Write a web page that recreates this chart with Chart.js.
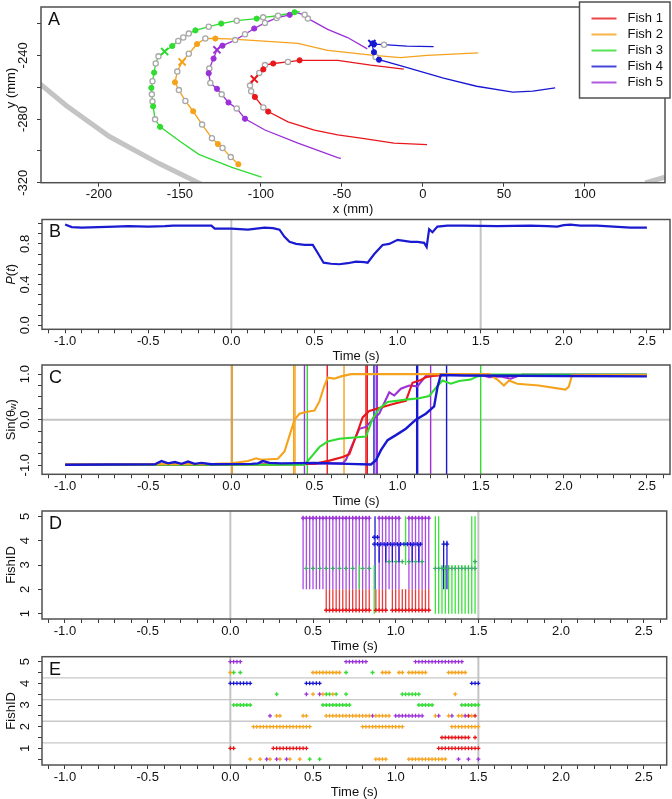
<!DOCTYPE html>
<html>
<head>
<meta charset="utf-8">
<script src="https://cdn.jsdelivr.net/npm/chart.js@4.4.0/dist/chart.umd.min.js"></script>
<style>
  html, body { margin: 0; padding: 0; background: #fff; }
  #wrap { position: relative; width: 672px; height: 799px; overflow: hidden; }
  #wrap canvas { position: absolute; left: 0; top: 0; }
</style>
</head>
<body>
<div id="wrap">
  <canvas id="panelA" width="672" height="799"></canvas>
  <canvas id="panelB" width="672" height="799"></canvas>
  <canvas id="panelC" width="672" height="799"></canvas>
  <canvas id="panelD" width="672" height="799"></canvas>
  <canvas id="panelE" width="672" height="799"></canvas>
</div>
<script>
// ---------- data ----------
const fishNames = ['Fish 1', 'Fish 2', 'Fish 3', 'Fish 4', 'Fish 5'];

// A: trajectories (mm)
const path1 = [[-11.8,-248.6],[-32.2,-246.1],[-52.6,-243.1],[-64.9,-243.1],[-76.1,-243.1],[-83.3,-244.1],[-92.4,-245.1],[-97.5,-246.1],[-98.5,-248.8],[-101,-251],[-104.1,-254.9],[-106.7,-259],[-106,-262.5],[-103.7,-266.1],[-98.5,-272.7],[-95.5,-275.3],[-83.3,-281.8],[-67,-286.9],[-52.6,-290],[-38.3,-292],[-17.9,-295.1],[2.5,-296.1]];
const path2 = [[34.1,-238.4],[2.5,-240],[-13.9,-241.4],[-30.2,-240],[-58.8,-236.9],[-77.1,-232.4],[-107.7,-230.4],[-120,-229.6],[-128.1,-229.4],[-134.3,-229.4],[-139.4,-232.9],[-144.5,-239],[-148.6,-244.1],[-151.6,-250.2],[-153,-256.9],[-150.6,-261.8],[-146.6,-268.6],[-141.8,-275.1],[-136.3,-283.5],[-130.2,-292],[-126.5,-295.7],[-123.7,-298.2],[-118.6,-303.9],[-113.9,-308.4]];
const path3 = [[-76,-212.5],[-79.2,-212.9],[-89.4,-215.1],[-98.6,-216.1],[-102.6,-216.9],[-114.9,-218.2],[-124.5,-220],[-132.2,-222],[-140.4,-224.3],[-144.5,-226.3],[-147.9,-228.8],[-151,-231],[-154.7,-234.1],[-159.4,-237.6],[-163.2,-240.6],[-164.9,-245.1],[-165.9,-250.8],[-166.9,-256.3],[-167.6,-260.4],[-167.3,-264.5],[-166.9,-269],[-166.5,-272],[-165.3,-280.2],[-162.2,-284.9],[-150,-294],[-138.3,-302.2],[-117.9,-310.4],[-99.6,-316.5]];
const path4 = [[6.6,-234.5],[-10,-234.2],[-24,-233.3],[-30.2,-232.9],[-31.5,-232.6],[-30.2,-238],[-29.2,-241],[-27.1,-242.7],[-11.8,-247.1],[12.7,-254.3],[33.1,-259.4],[55.5,-263.1],[67.8,-262.4],[81.6,-260.4]];
const path5 = [[-34.3,-235.9],[-46.5,-228.8],[-58.8,-223.7],[-68,-218.5],[-71,-216.9],[-73,-214.5],[-78,-213.2],[-82.2,-214.5],[-90.3,-216.5],[-97.5,-219.6],[-104.1,-223.1],[-109.8,-226.7],[-115.9,-230.4],[-123.7,-233.9],[-127.1,-236.5],[-129.2,-242],[-131.8,-248.2],[-132.2,-251.2],[-131.2,-257.3],[-127.1,-261],[-124.2,-264.5],[-120,-269.6],[-114.9,-273.3],[-109.8,-279.8],[-97.5,-286.9],[-77.1,-295.1],[-52.6,-304.3],[-50.6,-304.7]];
const wallLeft = [[-242,-253],[-235.7,-258.4],[-220,-271.6],[-193.5,-291],[-162.8,-308],[-138.3,-320.2],[-130,-325]];
const wallRight = [[137.2,-320.2],[149.4,-316.5],[156,-313]];

const filled1 = [[-76.1,-243.1],[-92.4,-245.1],[-98.5,-248.8],[-103.7,-266.1],[-95.5,-275.3]];
const open1 = [[-83.3,-244.1],[-97.5,-246.1],[-101,-251],[-106.7,-259],[-106,-262.5],[-98.5,-272.7]];
const cross1 = [[-104.1,-254.9]];
const filled2 = [[-128.1,-229.4],[-139.4,-232.9],[-153,-256.9],[-141.8,-275.1],[-126.5,-295.7],[-113.9,-308.4]];
const open2 = [[-134.3,-229.4],[-144.5,-239],[-151.6,-250.2],[-150.6,-261.8],[-146.6,-268.6],[-136.3,-283.5],[-130.2,-292],[-123.7,-298.2],[-118.6,-303.9]];
const cross2 = [[-148.6,-244.1]];
const filled3 = [[-79.2,-212.9],[-102.6,-216.9],[-124.5,-220],[-140.4,-224.3],[-154.7,-234.1],[-165.9,-250.8],[-167.6,-260.4],[-166.5,-272],[-162.2,-284.9]];
const open3 = [[-89.4,-215.1],[-98.6,-216.1],[-114.9,-218.2],[-132.2,-222],[-144.5,-226.3],[-147.9,-228.8],[-151,-231],[-163.2,-240.6],[-164.9,-245.1],[-166.9,-256.3],[-167.3,-264.5],[-166.9,-269],[-165.3,-280.2]];
const cross3 = [[-159.4,-237.6]];
const filled4 = [[-30.2,-232.9],[-31,-232.5],[-30.2,-238],[-27.1,-242.7]];
const open4 = [[-24,-233.3],[-29.2,-241]];
const cross4 = [[-31.5,-232.6]];
const filled5 = [[-82.2,-214.5],[-104.1,-223.1],[-123.7,-233.9],[-129.2,-242],[-132.2,-251.2],[-127.1,-261],[-120,-269.6],[-109.8,-279.8]];
const open5 = [[-71,-216.9],[-73,-214.5],[-90.3,-216.5],[-97.5,-219.6],[-109.8,-226.7],[-115.9,-230.4],[-131.8,-248.2],[-131.2,-257.3],[-124.2,-264.5],[-114.9,-273.3]];
const cross5 = [[-127.1,-236.5]];

// B: polarisation P(t)
const polarSeries = [[-1.00,0.99],[-0.96,0.965],[-0.90,0.96],[-0.80,0.965],[-0.70,0.97],[-0.62,0.975],[-0.50,0.97],[-0.40,0.975],[-0.35,0.98],[-0.28,0.98],[-0.20,0.98],[-0.12,0.98],[-0.10,0.95],[-0.05,0.95],[0.00,0.95],[0.10,0.94],[0.15,0.95],[0.20,0.96],[0.25,0.955],[0.29,0.94],[0.32,0.87],[0.35,0.82],[0.39,0.80],[0.44,0.79],[0.49,0.79],[0.52,0.71],[0.555,0.615],[0.60,0.605],[0.65,0.60],[0.70,0.61],[0.75,0.625],[0.80,0.62],[0.82,0.615],[0.86,0.70],[0.91,0.79],[0.95,0.80],[1.00,0.84],[1.04,0.83],[1.08,0.82],[1.12,0.82],[1.16,0.81],[1.175,0.77],[1.19,0.945],[1.21,0.915],[1.24,0.97],[1.30,0.98],[1.40,0.98],[1.60,0.975],[1.80,0.98],[1.90,0.975],[1.96,0.97],[2.00,0.985],[2.04,0.99],[2.10,0.98],[2.20,0.98],[2.30,0.97],[2.40,0.96],[2.46,0.96],[2.50,0.96]];

// C: sin(theta_w) per fish
const sin1 = [[-1.0,-0.99],[0.0,-0.99],[0.40,-0.98],[0.50,-0.97],[0.59,-0.90],[0.67,-0.82],[0.71,-0.76],[0.76,-0.26],[0.79,0.05],[0.83,0.19],[0.91,0.28],[0.99,0.36],[1.05,0.41],[1.09,0.81],[1.14,0.87],[1.17,0.93],[1.21,0.96],[1.30,0.98],[2.0,0.98],[2.5,0.98]];
const sin2 = [[-1.0,-0.98],[-0.1,-0.97],[0.0,-0.96],[0.10,-0.91],[0.15,-0.85],[0.18,-0.88],[0.28,-0.86],[0.32,-0.70],[0.35,-0.35],[0.38,0.0],[0.41,0.13],[0.45,0.17],[0.50,0.20],[0.53,0.40],[0.56,0.75],[0.58,0.92],[0.62,0.90],[0.66,0.95],[0.72,1.0],[1.55,1.0],[1.60,0.88],[1.64,0.75],[1.67,0.86],[1.72,0.79],[1.85,0.75],[2.01,0.66],[2.03,0.72],[2.05,0.98],[2.5,0.98]];
const sin3 = [[-1.0,-0.99],[0.44,-0.99],[0.49,-0.78],[0.53,-0.60],[0.58,-0.48],[0.65,-0.42],[0.81,-0.37],[0.85,0.02],[0.89,0.24],[0.94,0.39],[1.05,0.44],[1.13,0.47],[1.19,0.52],[1.24,0.74],[1.27,0.86],[1.32,0.79],[1.37,0.85],[1.44,0.88],[1.48,0.95],[1.54,0.99],[2.5,0.99]];
const sin4 = [[-1.0,-0.99],[-0.46,-0.98],[-0.42,-0.91],[-0.38,-0.96],[-0.34,-0.93],[-0.30,-0.97],[-0.26,-0.92],[-0.22,-0.97],[-0.18,-0.95],[-0.12,-0.98],[0.12,-0.97],[0.16,-0.96],[0.19,-0.91],[0.23,-0.95],[0.30,-0.96],[0.50,-0.95],[0.70,-0.97],[0.84,-0.985],[0.87,-0.89],[0.90,-0.67],[0.94,-0.45],[0.99,-0.34],[1.05,-0.20],[1.11,0.0],[1.17,0.13],[1.22,0.29],[1.24,0.71],[1.26,0.98],[1.40,0.97],[2.0,0.96],[2.5,0.95]];
const sin5 = [[-1.0,-0.99],[0.40,-0.98],[0.59,-0.96],[0.67,-0.96],[0.69,-0.88],[0.74,-0.45],[0.77,-0.20],[0.81,-0.16],[0.85,0.0],[0.89,0.13],[0.95,0.60],[0.98,0.53],[1.02,0.68],[1.07,0.75],[1.12,0.73],[1.17,0.96],[1.21,1.0],[1.50,0.99],[1.55,0.93],[1.62,0.95],[1.68,0.90],[1.75,0.99],[2.5,0.99]];
const eventTimes = [0.0, 0.006, 0.375, 0.383, 0.44, 0.457, 0.577, 0.678, 0.81, 0.818, 0.858, 0.872, 0.878, 1.115, 1.121, 1.199, 1.295, 1.50];
const eventFish  = [2, 2, 2, 2, 5, 3, 1, 2, 1, 1, 4, 5, 5, 4, 4, 5, 4, 3];

// D: interaction arrows [time, fromID, toID]
const arrows5 = [[0.44,2,5],[0.46,2,5],[0.48,2,5],[0.50,2,5],[0.52,2,5],[0.54,2,5],[0.56,2,5],[0.58,2,5],[0.60,2,5],[0.62,2,5],[0.64,2,5],[0.66,2,5],[0.68,2,5],[0.70,2,5],[0.72,2,5],[0.74,2,5],[0.76,2,5],[0.78,2,5],[0.80,2,5],[0.82,2,5],[0.84,2,5],[0.90,2,5],[0.92,2,5],[0.94,2,5],[0.96,2,5],[0.98,2,5],[1.00,2,5],[1.02,2,5],[1.08,2,5],[1.10,2,5],[1.12,2,5],[1.14,2,5],[1.16,2,5],[1.18,2,5],[1.20,2,5]];
const arrows1 = [[0.58,2,1.12],[0.60,2,1.12],[0.62,2,1.12],[0.64,2,1.12],[0.66,2,1.12],[0.68,2,1.12],[0.70,2,1.12],[0.72,2,1.12],[0.74,2,1.12],[0.76,2,1.12],[0.78,2,1.12],[0.80,2,1.12],[0.82,2,1.12],[0.84,2,1.12],[0.88,2,1.12],[0.90,2,1.12],[0.92,2,1.12],[0.94,2,1.12],[0.98,2,1.12],[1.00,2,1.12],[1.02,2,1.12],[1.04,2,1.12],[1.06,2,1.12],[1.08,2,1.12],[1.10,2,1.12],[1.12,2,1.12],[1.14,2,1.12],[1.16,2,1.12],[1.18,2,1.12],[1.20,2,1.12]];
const arrows3 = [[0.78,2,3],[0.87,1,3],[1.06,3,5],[1.24,1,5],[1.26,1,5],[1.28,1,3],[1.30,1,3],[1.32,1,3],[1.34,1,3],[1.36,1,3],[1.38,1,3],[1.40,1,3],[1.42,1,3],[1.44,1,3],[1.46,1,5],[1.48,1,5]];
const arrows4 = [[0.875,2,5],[0.90,3.1,3.86],[0.94,3.1,3.86],[0.98,3.1,3.86],[1.02,3.1,3.86],[1.10,3.1,3.86],[1.14,3.1,3.86],[1.29,2,4],[1.31,2,4]];
const heads3 = [[0.46,2.86],[0.50,2.86],[0.54,2.86],[0.58,2.86],[0.62,2.86],[0.66,2.86],[0.70,2.86],[0.74,2.86],[0.80,2.86],[0.84,2.86],[0.96,3.14],[1.00,3.14],[1.04,3.14],[1.08,3.14],[1.12,3.14],[1.16,3.14],[1.24,2.86],[1.26,2.86],[1.28,2.86],[1.30,2.86],[1.32,2.86],[1.34,2.86],[1.36,2.86],[1.38,2.86],[1.40,2.86],[1.42,2.86],[1.44,2.86],[1.46,2.86],[1.48,2.86],[1.48,3.14]];
const heads4 = [[0.87,4.14],[0.89,4.14],[0.87,3.86],[0.89,3.86],[0.91,3.86],[0.93,3.86],[0.95,3.86],[0.97,3.86],[0.99,3.86],[1.01,3.86],[1.03,3.86],[1.05,3.86],[1.07,3.86],[1.09,3.86],[1.11,3.86],[1.13,3.86],[1.15,3.86],[1.29,3.86],[1.31,3.86]];

// E: fish positions in rank rows [row, times]
const rows1 = [[1,[0.00,0.02,0.26,0.28,0.30,0.32,0.34,0.36,0.38,0.40,0.42,0.44,0.46,1.26,1.28,1.30,1.32,1.34,1.36,1.38,1.40,1.42,1.44,1.46,1.48,1.50]],[1.5,[1.28,1.30,1.32,1.34,1.36,1.38,1.40,1.42,1.44,1.48]],[2.5,[1.44,1.48]]];
const rows2 = [[0.5,[0.12,0.18,0.24,0.30,0.36,0.42,0.88,0.90,0.92,0.94,1.08,1.10,1.12,1.14,1.16,1.18,1.20,1.22,1.24,1.26,1.28,1.30]],[2,[0.14,0.16,0.18,0.20,0.22,0.24,0.26,0.28,0.30,0.32,0.34,0.36,0.38,0.40,0.42,0.44,0.46,0.48,0.80,0.82,0.84,0.86,0.88,0.90,0.92,0.94,0.96,0.98,1.00,1.02,1.04,1.34,1.36,1.38,1.40,1.42,1.44,1.46,1.48,1.50]],[2.5,[0.28,0.30,0.44,0.46,0.58,0.60,0.62,0.64,0.66,0.68,0.70,0.72,0.74,0.76,0.78,0.80,0.82,0.84,0.88,0.90,0.92,0.94,0.96,1.24,1.32,1.38,1.40,1.46]],[3.5,[0.50,0.56,0.62,1.36]],[4.5,[0.00,0.50,0.52,0.54,0.56,0.58,0.60,0.62,0.64,0.66,0.92,0.94,0.96,1.02,1.04,1.08,1.10,1.12,1.14,1.16,1.18,1.32,1.34,1.36,1.38,1.40,1.42]]];
const rows3 = [[0.5,[0.48,0.54]],[3,[0.02,0.04,0.06,0.08,0.10,0.12,0.56,0.58,0.60,0.62,0.64,0.66,0.68,0.70,0.72,1.14,1.16,1.18,1.20,1.22,1.40,1.42,1.44,1.46,1.48,1.50]],[3.5,[0.28,0.58,0.60,0.64,0.70,1.04,1.06,1.08,1.10,1.12,1.14]],[4.5,[0.02,0.06,0.70,0.86]]];
const rows4 = [[4,[0.00,0.02,0.04,0.06,0.08,0.10,0.12,0.46,0.48,0.50,0.52,0.54,1.46,1.48,1.50]]];
const rows5 = [[0.5,[0.22,0.28,0.34,1.38,1.44,1.50]],[2.5,[0.24,0.86,1.00,1.02,1.04,1.06,1.08,1.10,1.12,1.14,1.16,1.26,1.34,1.42]],[3.5,[0.46,0.54]],[5,[0.00,0.02,0.04,0.06,0.70,0.72,0.74,0.76,0.78,0.80,0.82,1.12,1.14,1.16,1.18,1.20,1.22,1.24,1.26,1.28,1.30,1.32,1.34,1.36,1.38,1.40]]];

// axis tick labels
const xLabelsA = [-200, -150, -100, -50, 0, 50, 100];
const yLabelsA = [-240, -280, -320];
const timeLabels = [-1.0, -0.5, 0.0, 0.5, 1.0, 1.5, 2.0, 2.5];
const yLabelsB = [0.0, 0.4, 0.8];
const yLabelsC = [-1.0, 0.0, 1.0];
const fishIdLabels = [1, 2, 3, 4, 5];
const eGuideRows = [1.25, 2.25, 3.25, 4.25];
const markTimes = [0.0, 1.5];

// ---------- styling ----------
const FONT = '"Liberation Sans", Arial, Helvetica, sans-serif';
const COL = { 1: '#e8171c', 2: '#f5a21c', 3: '#2fdc2f', 4: '#1818d2', 5: '#9b30d8' };
const GREY = '#c4c4c4';
const W = 672, H = 799;

const minorTicks = (a, b, step) => { const t = []; for (let k = Math.round(a / step); k <= Math.round(b / step); k++) t.push(+(k * step).toFixed(4)); return t; };
const timeTicks = minorTicks(-1.1, 2.6, 0.1);

const xy = p => ({ x: p[0], y: p[1] });
function lineDS(pts, color, width, order) {
  return { type: 'line', data: pts.map(xy), borderColor: color, borderWidth: width, pointRadius: 0, fill: false, tension: 0, order: order || 0, clip: 0 };
}
function pointDS(pts, opts, order) {
  return Object.assign({ type: 'line', data: pts.map(xy), showLine: false, order: order || 0, clip: 4 }, opts);
}
function segDS(segs, color, width, order) {
  const d = [];
  segs.forEach(s => { d.push({ x: s[0], y: s[1] }, { x: s[0], y: s[2] }, { x: s[0], y: null }); });
  return { type: 'line', data: d, borderColor: color, borderWidth: width, pointRadius: 0, spanGaps: false, order: order || 0, clip: 0 };
}

function axis(range, ticks, dim) {
  return {
    type: 'linear', min: range[0], max: range[1],
    afterBuildTicks: s => { s.ticks = ticks.map(v => ({ value: v })); },
    afterFit: s => { s[dim] = 4; },
    ticks: { display: false },
    grid: { display: true, drawOnChartArea: false, drawTicks: true, tickLength: 4, tickColor: '#3a3a3a', lineWidth: 1 },
    border: { display: false }
  };
}

function drawRotated(ctx, x, y, pieces) {
  ctx.save();
  ctx.translate(x, y);
  ctx.rotate(-Math.PI / 2);
  ctx.textBaseline = 'middle';
  ctx.textAlign = 'left';
  let total = 0;
  pieces.forEach(p => { ctx.font = p.font; total += ctx.measureText(p.text).width; });
  let cx = -total / 2;
  pieces.forEach(p => { ctx.font = p.font; ctx.fillText(p.text, cx, p.dy || 0); cx += ctx.measureText(p.text).width; });
  ctx.restore();
}

const rStyle = {
  id: 'rStyle',
  afterDraw(chart, args, o) {
    const ctx = chart.ctx, a = chart.chartArea, xs = chart.scales.x, ys = chart.scales.y;
    ctx.save();
    ctx.strokeStyle = '#505050';
    ctx.lineWidth = 1.5;
    ctx.strokeRect(a.left, a.top, a.right - a.left, a.bottom - a.top);
    ctx.fillStyle = '#111';
    ctx.font = '13px ' + FONT;
    ctx.textAlign = 'center';
    ctx.textBaseline = 'middle';
    o.xLabels.forEach(v => ctx.fillText(o.xFmt(v), xs.getPixelForValue(v), a.bottom + 12));
    ctx.fillText(o.xTitle, (a.left + a.right) / 2, a.bottom + 27);
    o.yLabels.forEach(v => drawRotated(ctx, o.yLabelX || 25, ys.getPixelForValue(v), [{ text: o.yFmt(v), font: '13px ' + FONT }]));
    drawRotated(ctx, 11, o.yTitleY || (a.top + a.bottom) / 2, o.yTitle);
    ctx.font = '18px ' + FONT;
    ctx.textAlign = 'left';
    ctx.fillText(o.letter, a.left + 7, a.top + 13);
    if (o.legend) {
      const L = o.legend;
      ctx.fillStyle = '#fff';
      ctx.fillRect(L.x, L.y, L.w, L.h);
      ctx.strokeStyle = '#505050';
      ctx.lineWidth = 1.5;
      ctx.strokeRect(L.x, L.y, L.w, L.h);
      ctx.font = '13px ' + FONT;
      L.items.forEach((it, i) => {
        const yy = L.y + 16.5 + i * 16;
        ctx.strokeStyle = it.color;
        ctx.globalAlpha = 0.8;
        ctx.lineWidth = 2;
        ctx.beginPath(); ctx.moveTo(L.x + 12, yy); ctx.lineTo(L.x + 37, yy); ctx.stroke();
        ctx.globalAlpha = 1;
        ctx.fillStyle = '#111';
        ctx.fillText(it.text, L.x + 48, yy);
      });
    }
    ctx.restore();
  }
};

function panel(id, box, xRange, yRange, xTicks, yTicks, datasets, deco) {
  return new Chart(document.getElementById(id), {
    type: 'line',
    data: { datasets },
    options: {
      responsive: false, animation: false, devicePixelRatio: 1,
      layout: { padding: { left: box.l - 4, right: W - box.r, top: box.t, bottom: H - box.b - 4 } },
      plugins: { legend: { display: false }, tooltip: { enabled: false }, rStyle: deco },
      scales: { x: axis(xRange, xTicks, 'height'), y: axis(yRange, yTicks, 'width') },
      events: []
    },
    plugins: [rStyle]
  });
}

const fmt1 = v => v.toFixed(1);
const fmt0 = v => String(v);
const normal = t => ({ text: t, font: '13px ' + FONT });
const timeRange = [-1.139, 2.639];
const vline = (t, lo, hi) => [[t, lo], [t, hi]];

// ---------- panel A ----------
const paths = [path1, path2, path3, path4, path5];
const filled = [filled1, filled2, filled3, filled4, filled5];
const opens = [open1, open2, open3, open4, open5];
const crosses = [cross1, cross2, cross3, cross4, cross5];
const dsA = [];
dsA.push(lineDS(wallLeft, GREY, 5, 10), lineDS(wallRight, GREY, 5, 10));
paths.forEach((p, i) => dsA.push(lineDS(p, COL[i + 1], 1.3, 5)));
opens.forEach(p => dsA.push(pointDS(p, { pointStyle: 'circle', pointRadius: 2.6, pointBorderWidth: 1.3, pointBorderColor: '#a8a8a8', pointBackgroundColor: '#fff' }, 3)));
filled.forEach((p, i) => dsA.push(pointDS(p, { pointStyle: 'circle', pointRadius: 2.6, pointBorderWidth: 1, pointBorderColor: COL[i + 1], pointBackgroundColor: COL[i + 1] }, 2)));
crosses.forEach((p, i) => dsA.push(pointDS(p, { pointStyle: 'crossRot', pointRadius: 5, pointBorderWidth: 2, pointBorderColor: COL[i + 1] }, 1)));

panel('panelA', { l: 41, r: 670, t: 2, b: 182.7 }, [-235.7, 149.4], [-320, -209.6],
  xLabelsA, minorTicks(-320, -220, 20), dsA, {
    xLabels: xLabelsA, xFmt: fmt0, xTitle: 'x (mm)', yLabels: yLabelsA, yFmt: fmt0, yLabelX: 23,
    yTitle: [normal('y (mm)')], yTitleY: 88, letter: 'A',
    legend: { x: 579.5, y: 2, w: 90.5, h: 96, items: fishNames.map((n, i) => ({ text: n, color: COL[i + 1] })) }
  });

// ---------- panel B ----------
const dsB = [lineDS(polarSeries, '#1a1ad0', 2.2, 1)];
markTimes.forEach(t => dsB.push(lineDS(vline(t, -0.04, 1.04), GREY, 2, 9)));
panel('panelB', { l: 42, r: 670, t: 219.5, b: 329.3 }, timeRange, [-0.04, 1.04],
  timeTicks, minorTicks(0, 1, 0.1), dsB, {
    xLabels: timeLabels, xFmt: fmt1, xTitle: 'Time (s)', yLabels: yLabelsB, yFmt: fmt1,
    yTitle: [{ text: 'P', font: 'italic 13px ' + FONT }, normal('('), { text: 't', font: 'italic 13px ' + FONT }, normal(')')], letter: 'B'
  });

// ---------- panel C ----------
const dsC = [];
[sin4, sin2, sin3, sin1, sin5].forEach((s, k) => {
  const f = [4, 2, 3, 1, 5][k];
  dsC.push(lineDS(s, COL[f], f === 4 ? 2.4 : 2.1, 2));
});
eventTimes.forEach((t, i) => dsC.push(lineDS(vline(t, -1.2, 1.2), i < 2 ? '#dca24a' : COL[eventFish[i]], 1.4, 6)));
dsC.push(lineDS([[-1.139, 0], [2.639, 0]], GREY, 2, 9));
panel('panelC', { l: 42, r: 670, t: 365, b: 474.3 }, timeRange, [-1.2, 1.2],
  timeTicks, minorTicks(-1, 1, 0.25), dsC, {
    xLabels: timeLabels, xFmt: fmt1, xTitle: 'Time (s)', yLabels: yLabelsC, yFmt: fmt1,
    yTitle: [normal('Sin(\u03b8'), { text: 'w', font: '9px ' + FONT, dy: 3 }, normal(')')], letter: 'C'
  });

// ---------- panel D ----------
const dsD = [];
const plus = (color, r) => ({ pointStyle: 'cross', pointRadius: r, pointBorderWidth: 1.3, pointBorderColor: color });
dsD.push(segDS(arrows5, '#a94be3', 1.3, 5));
dsD.push(pointDS(arrows5.map(a => [a[0], 4.93]), plus(COL[5], 2.2), 3));
dsD.push(segDS(arrows1, '#ec3a3a', 1.3, 5));
dsD.push(pointDS(arrows1.map(a => [a[0], 1.14]), plus(COL[1], 2.2), 3));
dsD.push(segDS(arrows3, '#3ce23c', 1.3, 4));
dsD.push(pointDS(heads3, plus('#3fae6a', 2.2), 3));
dsD.push(segDS(arrows4, COL[4], 1.3, 4));
dsD.push(pointDS(heads4, plus(COL[4], 2.2), 2));
markTimes.forEach(t => dsD.push(lineDS(vline(t, 0.78, 5.22), GREY, 2, 9)));
panel('panelD', { l: 42, r: 670, t: 511, b: 619 }, timeRange, [0.78, 5.22],
  timeTicks, fishIdLabels, dsD, {
    xLabels: timeLabels, xFmt: fmt1, xTitle: 'Time (s)', yLabels: fishIdLabels, yFmt: fmt0,
    yTitle: [normal('FishID')], letter: 'D'
  });

// ---------- panel E ----------
const dsE = [];
[rows1, rows2, rows3, rows4, rows5].forEach((rows, i) => {
  const pts = [];
  rows.forEach(r => r[1].forEach(t => pts.push([t, r[0]])));
  dsE.push(pointDS(pts, plus(COL[i + 1], 2), 2));
});
eGuideRows.forEach(r => dsE.push(lineDS([[-1.139, r], [2.639, r]], '#c8c8c8', 1.3, 9)));
markTimes.forEach(t => dsE.push(lineDS(vline(t, 0.23, 5.23), GREY, 2, 8)));
panel('panelE', { l: 42, r: 670, t: 656.7, b: 765 }, timeRange, [0.23, 5.23],
  timeTicks, minorTicks(0.5, 5, 0.5), dsE, {
    xLabels: timeLabels, xFmt: fmt1, xTitle: 'Time (s)', yLabels: fishIdLabels, yFmt: fmt0,
    yTitle: [normal('FishID')], letter: 'E'
  });
</script>
</body>
</html>
